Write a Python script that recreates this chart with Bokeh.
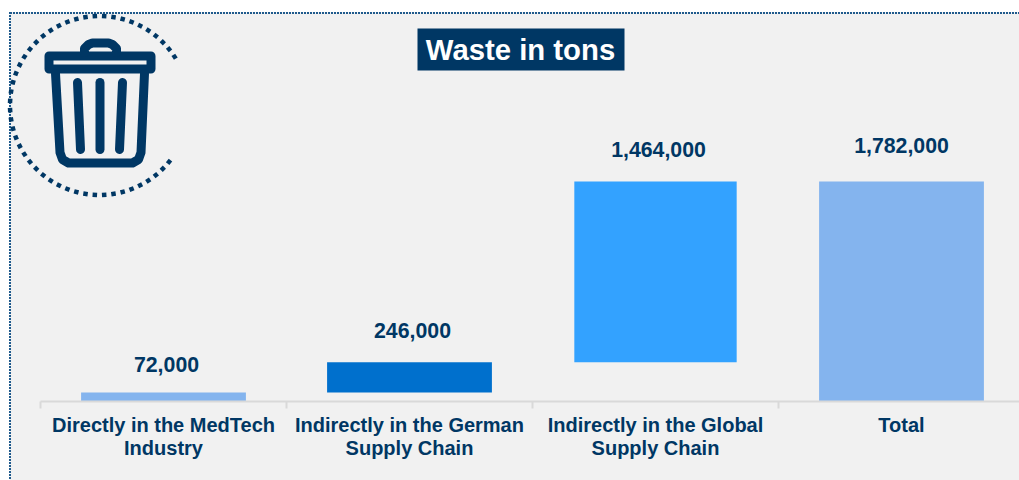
import numpy as np
from bokeh.plotting import figure
from bokeh.models import Range1d, FixedTicker, LinearAxis, ColumnDataSource
from bokeh.core.properties import value
from bokeh.embed import file_html
from bokeh.resources import INLINE

categories = ["Directly in the MedTech\nIndustry", "Indirectly in the German\nSupply Chain",
              "Indirectly in the Global\nSupply Chain", "Total"]
centers = [0.5, 1.5, 2.5, 3.5]
bottoms = [0, 72000, 318000, 0]
tops = [72000, 318000, 1782000, 1782000]
labels = ["72,000", "246,000", "1,464,000", "1,782,000"]
colors = ["#84B4EE", "#0070CD", "#33A2FF", "#84B4EE"]
widths = [0.67, 0.67, 0.66, 0.67]
label_dy = [-28, -32, -32, -36]
label_dx = [3, 3, 3, 0]

DARK = "#003764"
W, H = 1019, 480
FONT = "Liberation Sans"

p = figure(width=W, height=H, output_backend="svg", toolbar_location=None,
           x_range=Range1d(-40 / 246, (W - 40) / 246), y_range=Range1d(0, 401 * 8100),
           min_border_left=0, min_border_right=0, min_border_top=0, min_border_bottom=H - 401,
           x_axis_location=None, y_axis_location=None,
           background_fill_color=None, border_fill_color=None, outline_line_color=None)
p.grid.visible = False
p.extra_x_ranges = {"px": Range1d(0, W)}
p.extra_y_ranges = {"py": Range1d(401, 0)}

# panel background with dotted top and left border
dots_v = "repeating-linear-gradient(to bottom, #1F5A8C 0 2px, transparent 2px 3px)"
dots_h = "repeating-linear-gradient(to right, #1F5A8C 0 2px, transparent 2px 3px)"
panel = "linear-gradient(#F1F1F1, #F1F1F1)"
p.styles = {
    "background-image": f"{dots_v}, {dots_h}, {panel}",
    "background-position": "9px 12px, 10px 12px, 10px 12px",
    "background-size": "2px 100%, 100% 2px, 100% 100%",
    "background-repeat": "no-repeat",
}

src = ColumnDataSource(dict(x=centers, w=widths, b=bottoms, t=tops, c=colors, l=labels, dy=label_dy, dx=label_dx))
p.vbar(x="x", width="w", bottom="b", top="t", fill_color="c", line_color=None, source=src)
p.text(x="x", y="t", text="l", x_offset="dx", y_offset="dy", source=src, text_align="center", text_baseline="middle",
       text_color=DARK, text_font=value(FONT), text_font_style="bold", text_font_size="21.3px")

axis = LinearAxis(ticker=FixedTicker(ticks=centers, minor_ticks=[0, 1, 2, 3]),
                  major_label_overrides=dict(zip(centers, categories)),
                  bounds=(0, 4), axis_line_color="#D9D9D9", axis_line_width=2,
                  major_tick_line_color=None, minor_tick_line_color="#D9D9D9", minor_tick_line_width=2,
                  minor_tick_out=7, minor_tick_in=0, major_label_standoff=5,
                  major_label_text_color=DARK, major_label_text_font=FONT,
                  major_label_text_font_style="bold", major_label_text_font_size="20px",
                  major_label_text_line_height=1.05)
p.add_layout(axis, "below")

# title
kw = dict(x_range_name="px", y_range_name="py")
p.quad(left=[417], right=[624], top=[28], bottom=[70], fill_color=DARK, line_color=None, **kw)
p.text(x=[520], y=[49], text=["Waste in tons"], text_align="center", text_baseline="middle", text_color="white",
       text_font=value(FONT), text_font_style="bold", text_font_size="29.3px", **kw)

# dotted circle around the icon
a = np.radians(np.arange(-33, -323, -6))
p.scatter(99 + 89.5 * np.cos(a), 105 + 89.5 * np.sin(a), marker="square", size=4.5, angle=-a,
          fill_color=DARK, line_color=None, **kw)

# trash can icon
st = dict(line_color=DARK, line_cap="round", line_join="round", **kw)
p.line([48.5, 150.5, 150.5, 48.5, 48.5], [55.5, 55.5, 68.5, 68.5, 55.5], line_width=9, **st)
p.line([84, 84, 88, 92, 108, 112, 116, 116], [52, 48, 44, 42.5, 42.5, 44, 48, 52], line_width=9, **st)
p.line([55, 59.5, 62, 68, 132, 138, 140.5, 144], [73, 152, 159, 162.5, 162.5, 159, 152, 73], line_width=9, **st)
p.line([77, 80], [82, 149], line_width=9, **st)
p.line([99.5, 99.5], [82, 149], line_width=9, **st)
p.line([122, 119], [82, 149], line_width=9, **st)

open("out.html", "w").write(file_html(p, INLINE))
